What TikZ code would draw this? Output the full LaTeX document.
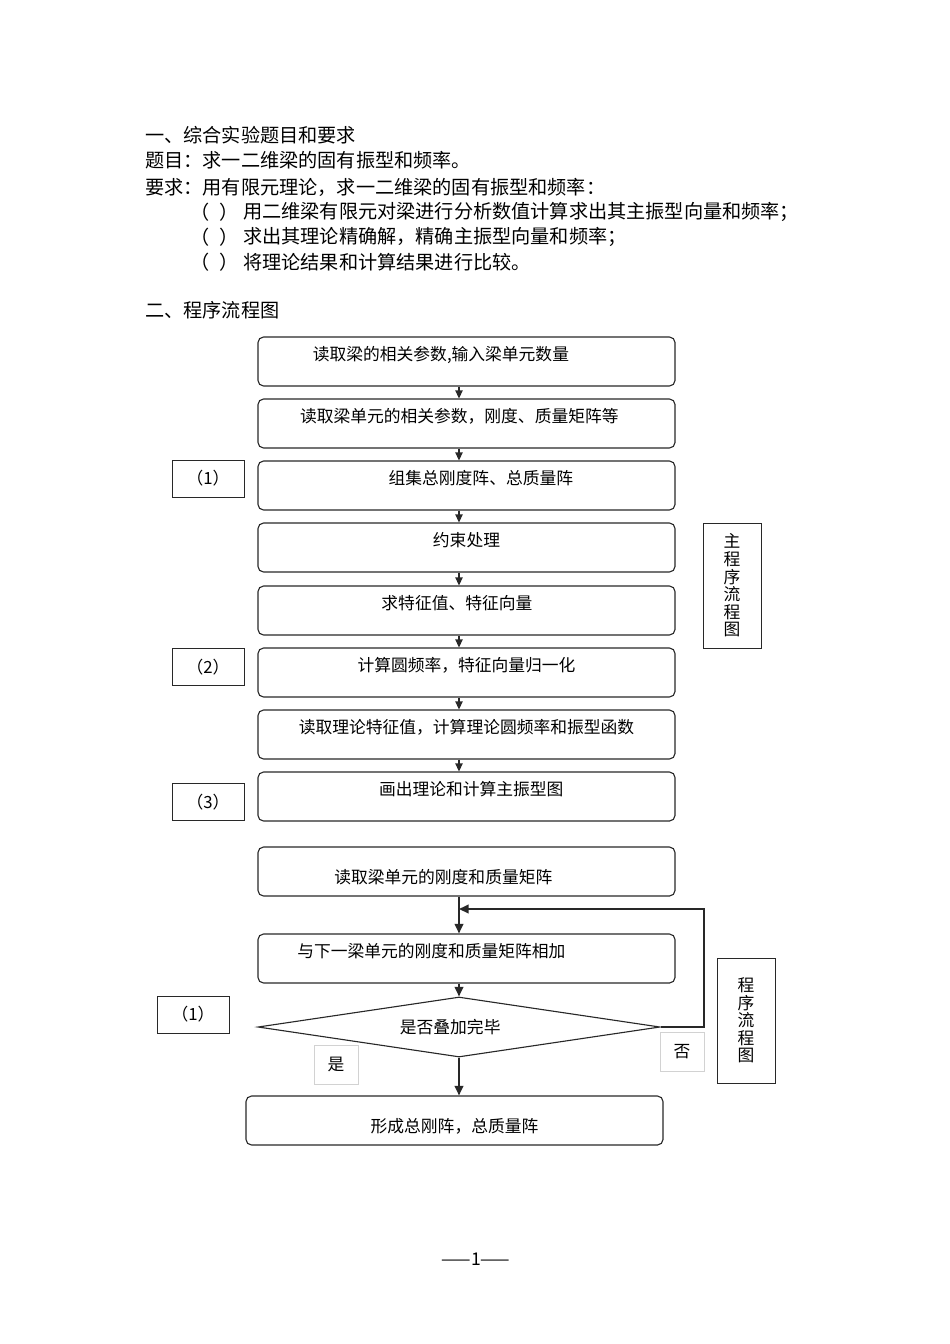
\documentclass[tikz,border=0pt]{standalone}
\usepackage{fontspec}
\setmainfont{Noto Sans CJK SC}
\usetikzlibrary{arrows.meta,positioning,calc,shapes.geometric}
\definecolor{ink}{RGB}{40,40,40}
\definecolor{pale}{RGB}{210,210,210}
\tikzset{
  stepbox/.style={draw=ink,line width=0.7pt,rounded corners=3.5pt,minimum width=261.2pt,
    minimum height=30.7pt,inner sep=0pt,font=\fontsize{10.5}{12}\selectfont},
  hitxt/.style={text height=14.6pt,text depth=16.1pt},
  lowtxt/.style={text height=22.8pt,text depth=7.9pt},
  tag/.style={draw=ink,line width=0.6pt,minimum width=45.1pt,minimum height=23.2pt,
    inner sep=0pt,font=\fontsize{10.5}{12}\selectfont},
  vbox/.style={draw=ink,line width=0.6pt,minimum width=36.3pt,minimum height=78.3pt,
    inner sep=0pt,align=center,font=\fontsize{10.5}{11}\selectfont},
  ans/.style={draw=pale,line width=0.5pt,minimum width=27.6pt,minimum height=24.4pt,
    inner sep=0pt,font=\fontsize{10.5}{12}\selectfont},
  decide/.style={diamond,aspect=6.7,draw=ink,line width=0.7pt,minimum width=251.8pt,
    minimum height=37.6pt,inner sep=0pt,font=\fontsize{10.5}{12}\selectfont},
  line/.style={anchor=west,inner sep=0pt,font=\fontsize{12}{14}\selectfont},
  arr/.style={-{Triangle[length=5pt,width=4.6pt]},line width=0.7pt,ink},
  arrb/.style={-{Triangle[length=6pt,width=5.4pt]},line width=1.1pt,ink},
}
\newcommand{\mv}[2]{\hspace*{#1}#2}

\begin{document}
\begin{tikzpicture}[x=0.6263pt,y=-0.6263pt]
\useasboundingbox (0,0) rectangle (950,1344);
% task text
\node[line] (h1) at (145,135) {一、综合实验题目和要求};
\node[line] (h2) at (145,160) {题目：求一二维梁的固有振型和频率。};
\node[line] (h3) at (145,187) {要求：用有限元理论，求一二维梁的固有振型和频率：};
\node[line] (p1) at (190,212) {（\hspace{6pt}）};
\node[line] (r1) at (243,212) {用二维梁有限元对梁进行分析数值计算求出其主振型向量和频率；};
\node[line] (p2) at (190,237) {（\hspace{6pt}）};
\node[line] (r2) at (243,237) {求出其理论精确解，精确主振型向量和频率；};
\node[line] (p3) at (190,262) {（\hspace{6pt}）};
\node[line] (r3) at (243,262) {将理论结果和计算结果进行比较。};
\node[line] (h4) at (145,310) {二、程序流程图};

% main flow
\node[stepbox,hitxt] (b1) at (466.5,361.5) {\mv{-32pt}{读取梁的相关参数,输入梁单元数量}};
\node[stepbox,hitxt] (b2) at (466.5,423.5) {\mv{-9pt}{读取梁单元的相关参数，刚度、质量矩阵等}};
\node[stepbox,hitxt] (b3) at (466.5,485.5) {\mv{18pt}{组集总刚度阵、总质量阵}};
\node[stepbox,hitxt] (b4) at (466.5,547.5) {约束处理};
\node[stepbox,hitxt] (b5) at (466.5,610.5) {\mv{-12pt}{求特征值、特征向量}};
\node[stepbox,hitxt] (b6) at (466.5,672.5) {计算圆频率，特征向量归一化};
\node[stepbox,hitxt] (b7) at (466.5,734.5) {读取理论特征值，计算理论圆频率和振型函数};
\node[stepbox,hitxt] (b8) at (466.5,796.5) {\mv{6pt}{画出理论和计算主振型图}};
\foreach \a/\b in {b1/b2,b2/b3,b3/b4,b4/b5,b5/b6,b6/b7,b7/b8}
  \draw[arr] (\a.south -| 459,0) -- (\b.north -| 459,0);

\node[tag] (k1) at (208,478.5) {（1）};
\node[tag] (k2) at (208,667) {（2）};
\node[tag] (k3) at (208,802) {（3）};
\node[vbox] (main) at (732,585.5) {主\\程\\序\\流\\程\\图};

% assembly sub-flow
\node[stepbox,lowtxt] (bA) at (466.5,871.5) {\mv{-29pt}{读取梁单元的刚度和质量矩阵}};
\node[stepbox,hitxt] (bB) at (466.5,958.5) {\mv{-44pt}{与下一梁单元的刚度和质量矩阵相加}};
\node[decide] (dec) at (459,1027) {\mv{-11pt}{是否叠加完毕}};
\node[stepbox,lowtxt] (bC) at (454.5,1120.5) {形成总刚阵，总质量阵};
\coordinate (join) at (459,909);

\draw[arrb] (bA.south -| join) -- (bB.north -| join);
\draw[arrb] (bB.south -| join) -- (dec.north);
\draw[arrb] (dec.south) -- (bC.north -| dec.south);
\draw[arrb] (dec.east) -- (704,1027) |- (join);

\node[ans] (yes) at (336,1064.5) {是};
\node[ans] (no) at (682,1051.5) {否};
\node[tag] (k4) at (193,1014.5) {（1）};
\node[vbox] (sub) at (746,1020.5) {程\\序\\流\\程\\图};

\node[font=\fontsize{11}{12}\selectfont] (pg) at (476,1259) {——1——};
\end{tikzpicture}
\end{document}
